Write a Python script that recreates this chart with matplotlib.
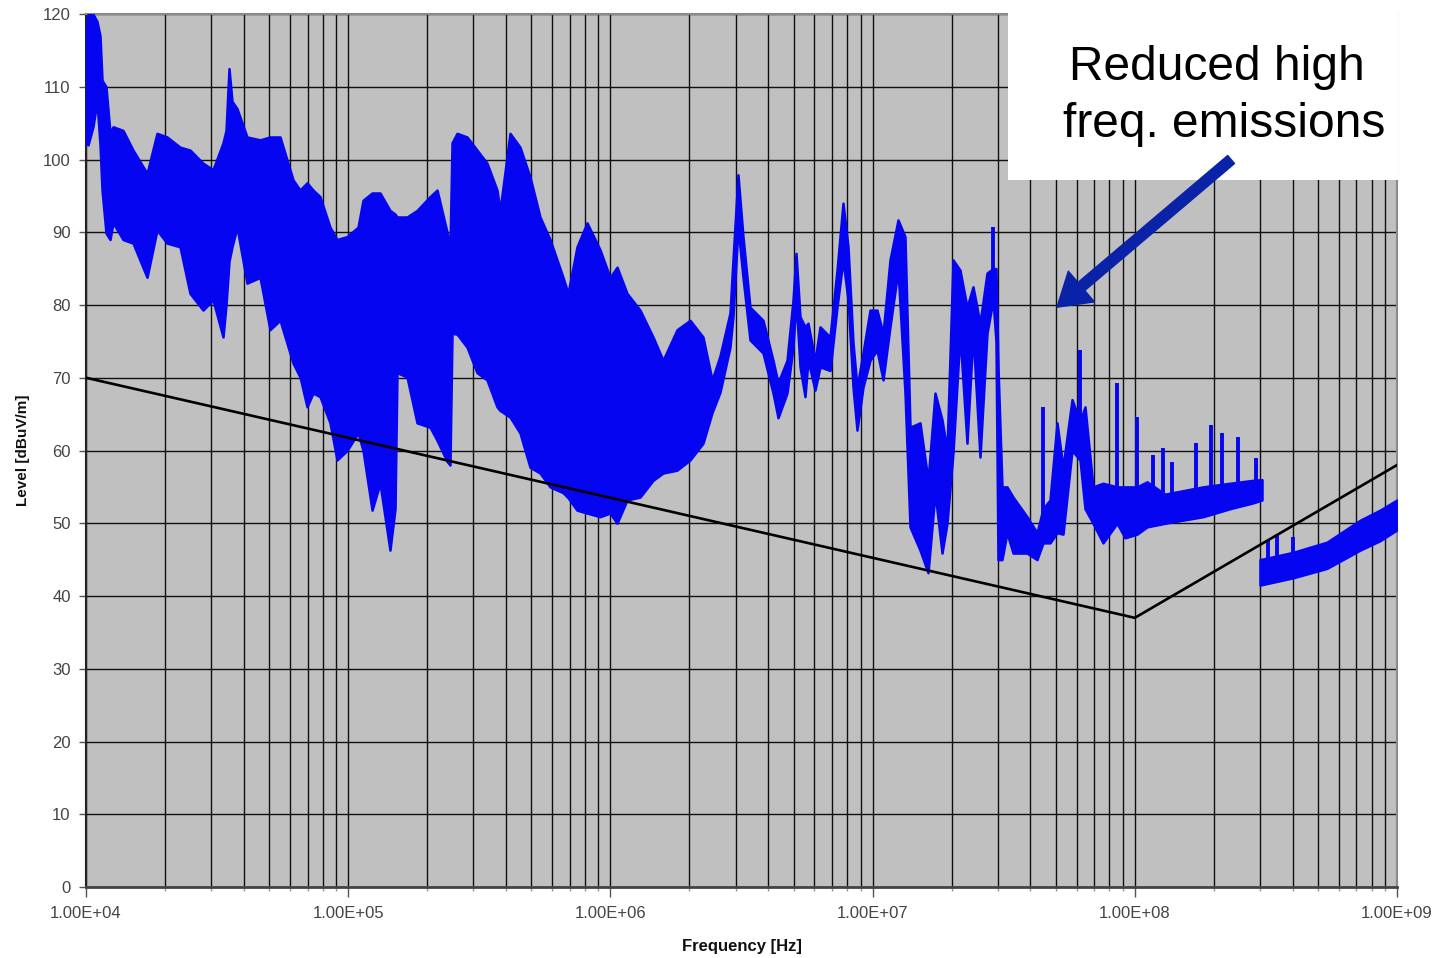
import numpy as np
import matplotlib
matplotlib.use("Agg")
import matplotlib.pyplot as plt
from matplotlib.ticker import LogLocator, FixedLocator, FixedFormatter, NullFormatter
from matplotlib.patches import Rectangle, FancyArrowPatch, ArrowStyle

plt.rcParams['font.family'] = ['Liberation Sans', 'DejaVu Sans']

# ---------------- data ----------------
# Sweep A (10 kHz .. ~300 MHz): upper / lower envelope of the dense trace
freq_a = [
    1.000e4, 1.018e4, 1.063e4, 1.101e4, 1.131e4, 1.151e4, 1.192e4, 1.235e4, 1.268e4, 1.384e4,
    1.511e4, 1.709e4, 1.865e4, 2.037e4, 2.283e4, 2.492e4, 2.794e4, 3.050e4, 3.331e4, 3.420e4,
    3.511e4, 3.605e4, 3.766e4, 4.112e4, 4.610e4, 5.031e4, 5.495e4, 6.160e4, 6.550e4, 6.965e4,
    7.342e4, 7.805e4, 8.522e4, 9.064e4, 9.894e4, 1.090e5, 1.139e5, 1.233e5, 1.322e5, 1.443e5,
    1.509e5, 1.535e5, 1.676e5, 1.830e5, 2.051e5, 2.182e5, 2.382e5, 2.445e5, 2.489e5, 2.600e5,
    2.839e5, 3.099e5, 3.383e5, 3.694e5, 3.793e5, 4.141e5, 4.521e5, 4.936e5, 5.389e5, 5.884e5,
    6.596e5, 6.893e5, 7.457e5, 8.142e5, 9.127e5, 9.966e5, 1.060e6, 1.157e6, 1.297e6, 1.454e6,
    1.587e6, 1.795e6, 2.012e6, 2.255e6, 2.441e6, 2.618e6, 2.858e6, 2.934e6, 3.066e6, 3.204e6,
    3.407e6, 3.819e6, 4.170e6, 4.358e6, 4.716e6, 4.971e6, 5.104e6, 5.286e6, 5.523e6, 5.670e6,
    6.030e6, 6.302e6, 6.880e6, 7.315e6, 7.711e6, 8.058e6, 8.420e6, 8.720e6, 9.191e6, 9.774e6,
    1.039e7, 1.096e7, 1.165e7, 1.250e7, 1.329e7, 1.389e7, 1.516e7, 1.627e7, 1.730e7, 1.840e7,
    1.922e7, 2.026e7, 2.154e7, 2.291e7, 2.415e7, 2.568e7, 2.731e7, 2.879e7, 2.955e7, 3.008e7,
    3.115e7, 3.254e7, 3.432e7, 3.881e7, 4.236e7, 4.466e7, 4.748e7, 5.050e7, 5.323e7, 5.761e7,
    6.180e7, 6.457e7, 6.926e7, 7.563e7, 8.554e7, 9.176e7, 1.020e8, 1.113e8, 1.304e8, 1.820e8,
    2.307e8, 2.824e8, 3.056e8]
upper_a = [
    117.4, 120.0, 120.0, 119.0, 117.0, 110.9, 110.0, 103.6, 104.5, 104.0,
    101.3, 98.1, 103.6, 103.1, 101.7, 101.3, 99.5, 98.6, 102.3, 104.0,
    112.5, 108.0, 107.0, 103.1, 102.7, 103.1, 103.1, 97.2, 95.8, 96.8,
    95.8, 94.9, 90.7, 89.0, 89.4, 90.7, 94.4, 95.4, 95.4, 93.0,
    92.5, 92.1, 92.1, 93.0, 94.9, 95.8, 90.0, 88.0, 102.3, 103.6,
    103.1, 101.3, 99.5, 95.8, 93.0, 103.6, 101.7, 97.6, 92.1, 89.0,
    83.8, 81.6, 88.0, 91.3, 87.6, 83.8, 85.2, 81.6, 79.3, 75.6,
    72.4, 76.6, 77.9, 75.6, 69.7, 73.0, 78.9, 86.2, 97.9, 89.4,
    79.7, 77.9, 72.4, 69.3, 72.4, 80.7, 87.1, 78.4, 77.0, 77.5,
    72.4, 77.0, 75.6, 84.8, 94.0, 88.0, 74.8, 68.7, 73.4, 79.3,
    79.3, 76.1, 86.2, 91.7, 89.4, 63.2, 63.8, 55.9, 67.9, 64.2,
    60.0, 86.2, 84.8, 79.7, 82.5, 77.5, 84.4, 85.0, 85.0, 71.5,
    55.0, 55.0, 53.6, 50.9, 48.7, 52.0, 53.2, 63.8, 57.7, 67.0,
    64.0, 66.0, 55.0, 55.5, 55.0, 55.0, 55.0, 55.7, 54.0, 55.0,
    55.5, 55.9, 56.0]
lower_a = [
    102.3, 102.0, 104.5, 108.0, 102.0, 95.8, 89.9, 89.0, 91.3, 89.0,
    88.5, 83.8, 90.3, 88.5, 88.0, 81.6, 79.3, 80.7, 75.6, 80.0,
    86.0, 88.0, 90.7, 83.0, 83.8, 76.6, 77.9, 72.0, 70.1, 66.0,
    67.9, 67.4, 63.8, 58.7, 60.0, 62.4, 60.0, 51.8, 55.5, 46.3,
    52.0, 70.7, 70.1, 63.8, 63.2, 61.4, 58.5, 58.0, 76.1, 76.0,
    74.2, 70.7, 69.7, 66.0, 65.5, 64.6, 62.4, 57.7, 56.9, 55.0,
    54.2, 53.5, 51.8, 51.4, 50.9, 51.4, 50.0, 53.2, 53.6, 55.9,
    56.9, 57.3, 58.7, 61.0, 65.2, 68.0, 74.2, 78.4, 90.7, 83.8,
    75.2, 73.4, 67.9, 64.5, 67.9, 74.2, 80.7, 71.5, 67.4, 72.4,
    68.3, 71.5, 71.0, 79.7, 86.2, 80.7, 68.7, 62.8, 68.7, 72.4,
    73.8, 69.7, 77.0, 84.8, 67.9, 49.5, 46.3, 43.2, 54.2, 45.9,
    50.0, 59.7, 76.0, 61.0, 76.1, 59.1, 76.1, 80.7, 75.0, 45.0,
    45.0, 48.7, 45.9, 45.9, 45.0, 47.3, 47.3, 48.7, 48.5, 60.0,
    58.7, 52.0, 50.0, 47.3, 50.0, 48.0, 48.5, 49.5, 50.0, 50.9,
    52.0, 52.8, 53.2]
# narrow peaks on top of sweep A
spike_freq_a = [2.879e7, 4.466e7, 6.180e7, 8.554e7, 1.020e8, 1.173e8, 1.281e8,
                1.387e8, 1.712e8, 1.953e8, 2.150e8, 2.475e8, 2.899e8]
spike_level_a = [90.7, 66.0, 73.8, 69.3, 64.6, 59.4, 60.3,
                 58.4, 61.0, 63.5, 62.4, 61.9, 59.0]

# Sweep B (~300 MHz .. 1 GHz)
freq_b = [3.003e8, 4.012e8, 5.408e8, 7.224e8, 8.615e8, 1.000e9]
upper_b = [45.0, 46.0, 47.4, 50.4, 51.8, 53.2]
lower_b = [41.5, 42.5, 43.8, 46.3, 47.6, 49.1]
spike_freq_b = [3.220e8, 3.486e8, 4.012e8]
spike_level_b = [47.7, 48.4, 48.1]

# limit line
limit_freq = [1e4, 1e8, 1e9]
limit_level = [70, 37, 58]

x_ticks = [1e4, 1e5, 1e6, 1e7, 1e8, 1e9]
x_tick_labels = ['1.00E+04', '1.00E+05', '1.00E+06', '1.00E+07', '1.00E+08', '1.00E+09']
y_ticks = list(range(0, 121, 10))

annotation_text = ['Reduced high', 'freq. emissions']
arrow_tail = (2.33e8, 100.0)
arrow_tip = (5.05e7, 79.7)

# ---------------- figure ----------------
W, H = 1443, 958
fig = plt.figure(figsize=(W / 100, H / 100), dpi=100)
ax = fig.add_axes([86 / W, 1 - 887 / H, (1397 - 86) / W, (887 - 14) / H])
ax.set_facecolor('#C0C0C0')
ax.set_xscale('log')
ax.set_xlim(1e4, 1e9)
ax.set_ylim(0, 120)

BLUE = '#0505F2'

def draw_sweep(f, up, lo, sf, sl):
    ax.fill_between(f, lo, up, facecolor=BLUE, edgecolor=BLUE, lw=1.8, zorder=3)
    base = np.interp(np.log10(sf), np.log10(f), lo)
    ax.vlines(sf, base, sl, colors=BLUE, lw=2.8, zorder=3)

draw_sweep(freq_a, upper_a, lower_a, spike_freq_a, spike_level_a)
draw_sweep(freq_b, upper_b, lower_b, spike_freq_b, spike_level_b)

ax.plot(limit_freq, limit_level, color='black', lw=1.9, zorder=4)

# grid
ax.xaxis.set_major_locator(FixedLocator(x_ticks))
ax.xaxis.set_major_formatter(FixedFormatter(x_tick_labels))
ax.xaxis.set_minor_locator(LogLocator(base=10, subs=np.arange(2, 10)))
ax.xaxis.set_minor_formatter(NullFormatter())
ax.set_yticks(y_ticks)
ax.set_axisbelow(True)
ax.grid(which='major', axis='both', color='#101010', lw=1.0)
ax.grid(which='minor', axis='x', color='#101010', lw=1.0)

ax.tick_params(axis='x', which='major', direction='out', length=7, width=1.0,
               color='#555555', labelsize=12, labelcolor='#444444', pad=7)
ax.tick_params(axis='x', which='minor', direction='out', length=3, width=1.0, color='#999999')
ax.tick_params(axis='y', which='major', direction='out', length=5, width=1.0,
               color='#555555', labelsize=12, labelcolor='#444444', pad=6)

for s in ['top', 'right']:
    ax.spines[s].set_color('#8a8a8a')
    ax.spines[s].set_linewidth(1.5)
ax.spines['left'].set_color('#222222')
ax.spines['left'].set_linewidth(1.5)
ax.spines['bottom'].set_color('#444444')
ax.spines['bottom'].set_linewidth(2.0)

ax.set_xlabel('Frequency [Hz]', fontsize=12, fontweight='bold', color='#111111')
ax.set_ylabel('Level [dBuV/m]', fontsize=11, fontweight='bold', color='#111111')
ax.xaxis.set_label_coords(0.5, -0.059)
ax.yaxis.set_label_coords(-0.043, 0.5)

# annotation box
fig.add_artist(Rectangle((1008 / W, 1 - 180 / H), (1398 - 1008) / W, 180 / H,
                         transform=fig.transFigure, facecolor='white',
                         edgecolor='none', zorder=5))
fig.text(1217 / W, 1 - 80 / H, annotation_text[0], ha='center', va='baseline',
         fontsize=34.5, color='black', zorder=6)
fig.text(1224 / W, 1 - 137 / H, annotation_text[1], ha='center', va='baseline',
         fontsize=34.5, color='black', zorder=6)
arrow = FancyArrowPatch(arrow_tail, arrow_tip, transform=ax.transData,
                        arrowstyle=ArrowStyle('Simple', head_length=1.15,
                                              head_width=1.45, tail_width=0.38),
                        mutation_scale=20, color='#0A22A8', shrinkA=0, shrinkB=0,
                        zorder=7)
fig.add_artist(arrow)

fig.savefig('out.png', dpi=100)
